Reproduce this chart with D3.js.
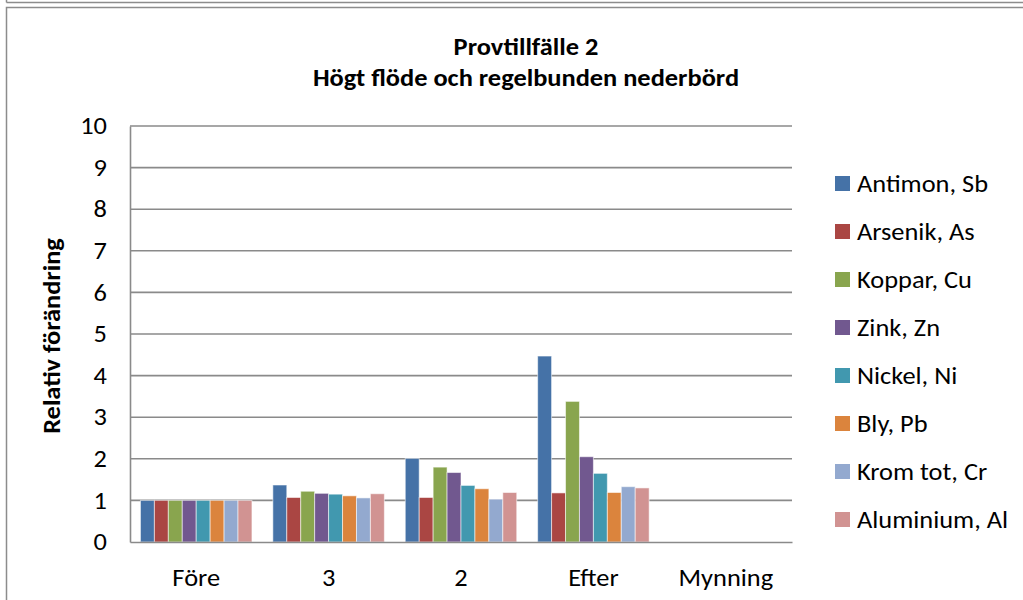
<!DOCTYPE html>
<html>
<head>
<meta charset="utf-8">
<script src="https://cdn.jsdelivr.net/npm/d3@7"></script>
<style>
  html, body { margin: 0; padding: 0; background: #fff; }
  svg { display: block; font-family: Carlito, Lato, "Open Sans", sans-serif; }
</style>
</head>
<body>
<svg id="chart" width="1023" height="600"></svg>
<script>
// Sampling points along the stream
const categories = ["Före", "3", "2", "Efter", "Mynning"];

// Metals (series), in legend order
const seriesNames = ["Antimon, Sb", "Arsenik, As", "Koppar, Cu", "Zink, Zn",
                     "Nickel, Ni", "Bly, Pb", "Krom tot, Cr", "Aluminium, Al"];
const seriesColors = ["#4572A7", "#AA4643", "#89A54E", "#71588F",
                      "#4198AF", "#DB843D", "#93A9CF", "#D19392"];

// Relative change per metal at each point (null = no value)
const antimon   = [1.00, 1.37, 2.01, 4.47, null];
const arsenik   = [1.00, 1.07, 1.07, 1.18, null];
const koppar    = [1.00, 1.22, 1.80, 3.38, null];
const zink      = [1.00, 1.17, 1.67, 2.05, null];
const nickel    = [1.00, 1.15, 1.36, 1.65, null];
const bly       = [1.00, 1.11, 1.28, 1.19, null];
const krom      = [1.00, 1.06, 1.03, 1.33, null];
const aluminium = [1.00, 1.16, 1.19, 1.30, null];
const seriesValues = [antimon, arsenik, koppar, zink, nickel, bly, krom, aluminium];

const yTicks = [0, 1, 2, 3, 4, 5, 6, 7, 8, 9, 10];

const titleLines = ["Provtillfälle 2", "Högt flöde och regelbunden nederbörd"];
const yTitle = "Relativ förändring";

// slightly widened lettering, closer to the office-style face
const FONT_SIZE = 24;
const STRETCH = 1.1;
const FONT = "Carlito, Lato, 'Open Sans', sans-serif";

const svg = d3.select("#chart");

// outer frames
svg.append("line").attr("x1", 6.5).attr("x2", 1023).attr("y1", 2.5).attr("y2", 2.5)
  .attr("stroke", "#8c8c8c").attr("stroke-width", 1.5);
svg.append("line").attr("x1", 6.5).attr("x2", 6.5).attr("y1", 0).attr("y2", 2.5)
  .attr("stroke", "#8c8c8c").attr("stroke-width", 1.5);
svg.append("rect").attr("x", 6.5).attr("y", 7.5).attr("width", 1030).attr("height", 610)
  .attr("fill", "#fff").attr("stroke", "#8c8c8c").attr("stroke-width", 1.5);

const plot = { left: 130, right: 792, top: 126, bottom: 542 };

const gapRatio = 1.5 / 9.5;
const x = d3.scaleBand().domain(categories)
  .range([plot.left, plot.right])
  .paddingInner(gapRatio).paddingOuter(gapRatio / 2);
const xs = d3.scaleBand().domain(d3.range(seriesNames.length))
  .range([0, x.bandwidth()]).padding(0);
const y = d3.scaleLinear().domain([0, 10]).range([plot.bottom, plot.top]);

// gridlines
svg.append("g")
  .selectAll("line").data(yTicks.filter(d => d > 0)).join("line")
  .attr("x1", plot.left).attr("x2", plot.right)
  .attr("y1", d => y(d)).attr("y2", d => y(d))
  .attr("stroke", "#8a8a8a").attr("stroke-width", 1.6);

// y axis
const yPad = 23;
const yAxis = svg.append("g").attr("transform", `translate(${plot.left},0)`)
  .call(d3.axisLeft(y).tickValues(yTicks).tickSize(0).tickPadding(yPad).tickFormat(d3.format("d")));
yAxis.select(".domain").attr("stroke", "#8a8a8a").attr("stroke-width", 1.6);
yAxis.selectAll("text").attr("font-size", FONT_SIZE).attr("fill", "#000")
  .attr("font-family", FONT)
  .attr("x", -yPad / STRETCH)
  .attr("transform", `scale(${STRETCH},1)`);

// bars
const groups = svg.append("g").selectAll("g").data(seriesValues).join("g")
  .attr("fill", (d, i) => seriesColors[i]);
groups.selectAll("rect")
  .data((vals, si) => vals.map((v, ci) => ({ v, si, c: categories[ci] })).filter(d => d.v != null))
  .join("rect")
  .attr("x", d => x(d.c) + xs(d.si))
  .attr("width", xs.bandwidth())
  .attr("y", d => y(d.v))
  .attr("height", d => y(0) - y(d.v))
  .attr("stroke", "rgba(255,255,255,0.55)").attr("stroke-width", 1);

// x axis
const xAxis = svg.append("g").attr("transform", `translate(0,${plot.bottom})`)
  .call(d3.axisBottom(x).tickSize(0).tickPadding(27));
xAxis.select(".domain").attr("stroke", "#8a8a8a").attr("stroke-width", 1.6);
xAxis.selectAll("text").attr("font-size", FONT_SIZE).attr("fill", "#000")
  .attr("font-family", FONT)
  .attr("transform", `scale(${STRETCH},1)`);
xAxis.selectAll(".tick").attr("transform", d => `translate(${x(d) + x.bandwidth() / 2},0)`);

// title
svg.append("g").attr("transform", `translate(526,0) scale(${STRETCH},1)`)
  .append("text").attr("text-anchor", "middle").attr("font-weight", "bold")
  .attr("font-size", FONT_SIZE).attr("fill", "#000")
  .selectAll("tspan").data(titleLines).join("tspan")
  .attr("x", 0).attr("y", (d, i) => 55 + i * 31).text(d => d);

// y axis title
svg.append("text").attr("transform", `translate(60,336) rotate(-90) scale(${STRETCH},1)`)
  .attr("text-anchor", "middle").attr("font-weight", "bold")
  .attr("font-size", FONT_SIZE).attr("fill", "#000").text(yTitle);

// legend
const legend = svg.append("g").selectAll("g").data(seriesNames).join("g")
  .attr("transform", (d, i) => `translate(835,${176 + i * 48})`);
legend.append("rect").attr("width", 15).attr("height", 15)
  .attr("fill", (d, i) => seriesColors[i]);
legend.append("text").attr("transform", `translate(22,16) scale(${STRETCH},1)`)
  .attr("font-size", FONT_SIZE).attr("fill", "#000").text(d => d);
</script>
</body>
</html>
